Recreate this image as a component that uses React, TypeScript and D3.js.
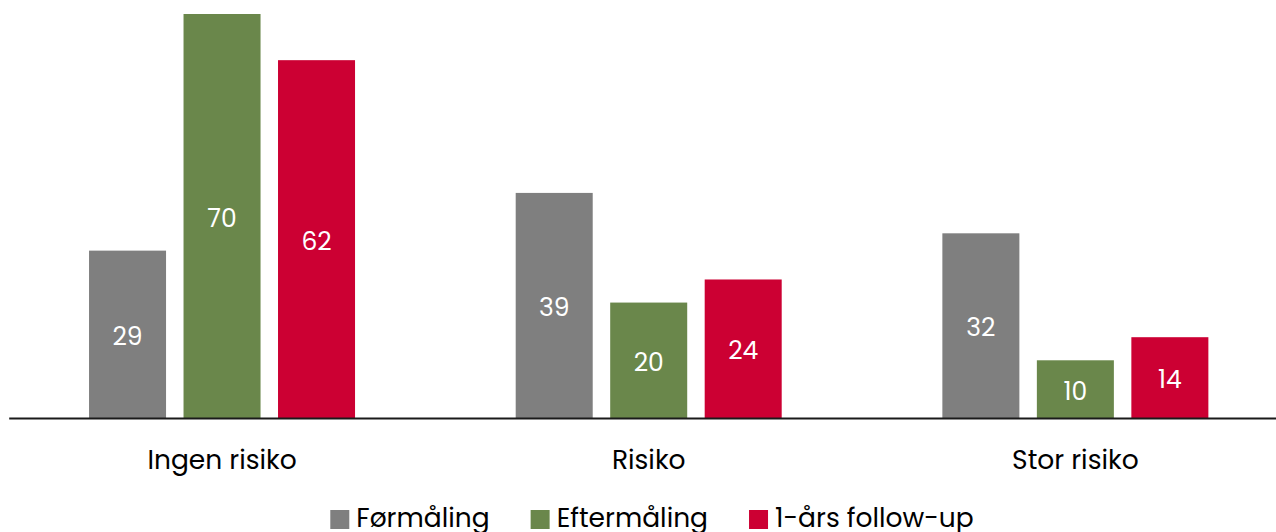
import { useEffect, useRef } from "react";
import * as d3 from "d3";

// Chart data
const categories = ["Ingen risiko", "Risiko", "Stor risiko"];
const seriesNames = ["Førmåling", "Eftermåling", "1-års follow-up"];
const seriesColors = ["#7F7F7F", "#6A874B", "#CC0033"];
const formaaling = [29, 39, 32];
const eftermaaling = [70, 20, 10];
const followUp = [62, 24, 14];

const seriesValues = [formaaling, eftermaaling, followUp];

const WIDTH = 1276;
const HEIGHT = 532;
const FONT = "Poppins, 'Open Sans', sans-serif";

export default function App() {
  const ref = useRef<SVGSVGElement>(null);

  useEffect(() => {
    if (!ref.current) return;
    const svg = d3.select(ref.current);
    svg.selectAll("*").remove();

    const baseline = 418;
    const top = 14;

    // Category bands (the last one runs past the window edge, as in the reference)
    const x0 = d3.scaleBand<string>()
      .domain(categories)
      .range([8.7, 1288.7])
      .paddingInner(0)
      .paddingOuter(0);

    const x1 = d3.scaleBand<string>()
      .domain(seriesNames)
      .range([-133, 133])
      .paddingInner(0.185)
      .paddingOuter(0);

    const y = d3.scaleLinear()
      .domain([0, 70])
      .range([baseline, top]);

    // Flatten into bar records
    const bars = categories.flatMap((cat, ci) =>
      seriesNames.map((s, si) => ({
        cat,
        series: s,
        color: seriesColors[si],
        value: seriesValues[si][ci],
      }))
    );

    const barG = svg.append("g");
    barG.selectAll("rect")
      .data(bars)
      .join("rect")
        .attr("x", d => x0(d.cat)! + x0.bandwidth() / 2 + x1(d.series)!)
        .attr("y", d => y(d.value))
        .attr("width", x1.bandwidth())
        .attr("height", d => y(0) - y(d.value))
        .attr("fill", d => d.color);

    // Value labels centred inside bars
    barG.selectAll("text")
      .data(bars)
      .join("text")
        .attr("x", d => x0(d.cat)! + x0.bandwidth() / 2 + x1(d.series)! + x1.bandwidth() / 2)
        .attr("y", d => (y(d.value) + y(0)) / 2)
        .attr("dy", "0.42em")
        .attr("text-anchor", "middle")
        .attr("fill", "#ffffff")
        .style("font-family", FONT)
        .style("font-size", "25px")
        .text(d => d.value);

    // Axis line + category labels
    const axis = svg.append("g")
      .attr("transform", `translate(0,${baseline})`)
      .call(d3.axisBottom(x0).tickSize(0).tickPadding(32).tickSizeOuter(0));
    axis.select(".domain").attr("stroke", "#1a1a1a").attr("stroke-width", 2);
    axis.selectAll(".tick text")
      .attr("fill", "#000")
      .style("font-family", FONT)
      .style("font-size", "26.5px");

    // Legend, laid out from measured text widths
    const legend = svg.append("g").attr("transform", "translate(0,527)");
    const sq = 19;
    const gapSqText = 7;
    const gapItems = 41;
    const items = legend.selectAll("g")
      .data(seriesNames)
      .join("g");
    items.append("rect")
      .attr("y", -17)
      .attr("width", sq)
      .attr("height", sq)
      .attr("fill", (_, i) => seriesColors[i]);
    const texts = items.append("text")
      .attr("x", sq + gapSqText)
      .attr("fill", "#000")
      .style("font-family", FONT)
      .style("font-size", "26.5px")
      .text(d => d);
    const widths = texts.nodes().map(n => (n as SVGTextElement).getComputedTextLength());
    const itemW = widths.map(w => sq + gapSqText + w);
    const total = d3.sum(itemW) + gapItems * (itemW.length - 1);
    let cx = 652 - total / 2;
    items.attr("transform", (_, i) => {
      const t = `translate(${cx},0)`;
      cx += itemW[i] + gapItems;
      return t;
    });
  }, []);

  return (
    <svg
      ref={ref}
      width={WIDTH}
      height={HEIGHT}
      style={{ position: "absolute", left: 0, top: 0, background: "#fff" }}
    />
  );
}
